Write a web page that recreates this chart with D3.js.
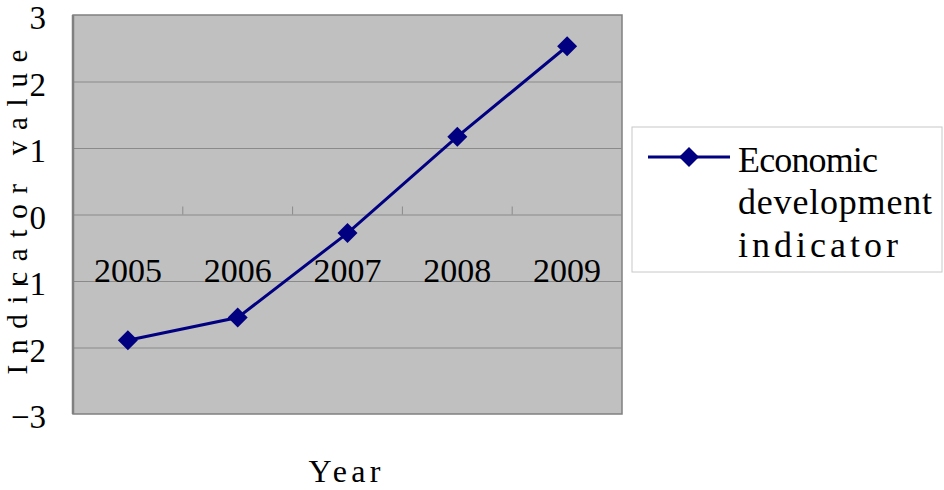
<!DOCTYPE html>
<html>
<head>
<meta charset="utf-8">
<script src="https://cdn.jsdelivr.net/npm/d3@7"></script>
<style>
  body { margin: 0; background: #fff; }
  svg { display: block; }
  text { font-family: "Liberation Serif", "DejaVu Serif", serif; fill: #000; }
</style>
</head>
<body>
<div id="chart"></div>
<script>
// data
var years = ["2005", "2006", "2007", "2008", "2009"];
var values = [-1.89, -1.55, -0.28, 1.17, 2.53];
var yTicks = [-3, -2, -1, 0, 1, 2, 3];
var seriesName = ["Economic", "development", "indicator"];

var width = 944, height = 490;
var plot = { left: 73, right: 622, top: 15, bottom: 414 };

var svg = d3.select("#chart").append("svg")
  .attr("width", width)
  .attr("height", height);

var x = d3.scaleBand().domain(years).range([plot.left, plot.right]);
var y = d3.scaleLinear().domain([-3, 3]).range([plot.bottom, plot.top]);

// plot area
svg.append("rect")
  .attr("x", plot.left).attr("y", plot.top)
  .attr("width", plot.right - plot.left).attr("height", plot.bottom - plot.top)
  .attr("fill", "#c0c0c0")
  .attr("stroke", "#808080")
  .attr("stroke-width", 1.5);

// gridlines
var grid = svg.append("g")
  .attr("transform", "translate(" + plot.left + ",0)")
  .call(d3.axisLeft(y).tickValues(yTicks.slice(1, -1)).tickSize(-(plot.right - plot.left)).tickFormat(""));
grid.select(".domain").remove();
grid.selectAll("line").attr("stroke", "#8a8a8a").attr("stroke-width", 1);

// left axis line
svg.append("line")
  .attr("x1", plot.left).attr("x2", plot.left)
  .attr("y1", plot.top).attr("y2", plot.bottom)
  .attr("stroke", "#808080").attr("stroke-width", 2.5);

// y tick labels
var yAxis = svg.append("g")
  .attr("transform", "translate(" + (plot.left - 27) + ",0)")
  .call(d3.axisLeft(y).tickValues(yTicks).tickSize(0).tickPadding(0)
    .tickFormat(function(d) { return d < 0 ? "\u2212" + Math.abs(d) : d; }));
yAxis.select(".domain").remove();
yAxis.selectAll("text")
  .attr("font-size", 33)
  .attr("font-family", "Liberation Serif")
  .attr("dy", "0.42em")
  .attr("fill", "#000");

// category axis at y = 0, tick marks point up at band edges
svg.selectAll(".cattick")
  .data(years.slice(1))
  .enter().append("line")
  .attr("class", "cattick")
  .attr("x1", function(d) { return x(d); })
  .attr("x2", function(d) { return x(d); })
  .attr("y1", y(0) - 8)
  .attr("y2", y(0))
  .attr("stroke", "#8a8a8a");

var xAxis = svg.append("g")
  .attr("transform", "translate(0," + y(0) + ")")
  .call(d3.axisBottom(x).tickSize(0).tickPadding(0));
xAxis.select(".domain").remove();
xAxis.selectAll("text")
  .attr("font-size", 34)
  .attr("font-family", "Liberation Serif")
  .attr("y", 67)
  .attr("dy", 0)
  .attr("fill", "#000");

// series line
var pts = years.map(function(d, i) { return [x(d) + x.bandwidth() / 2, y(values[i])]; });

svg.append("path")
  .datum(pts)
  .attr("d", d3.line())
  .attr("fill", "none")
  .attr("stroke", "#000080")
  .attr("stroke-width", 3);

var diamond = d3.symbol().type(d3.symbolSquare).size(200);

svg.selectAll(".marker")
  .data(pts)
  .enter().append("path")
  .attr("class", "marker")
  .attr("d", diamond)
  .attr("transform", function(d) { return "translate(" + d[0] + "," + d[1] + ") rotate(45)"; })
  .attr("fill", "#000080");

// axis titles
svg.append("text")
  .attr("x", (plot.left + plot.right) / 2 - 3)
  .attr("y", 482)
  .attr("text-anchor", "middle")
  .attr("font-size", 32)
  .attr("textLength", 72)
  .attr("lengthAdjust", "spacing")
  .text("Year");

svg.append("text")
  .attr("transform", "translate(27,212) rotate(-90)")
  .attr("text-anchor", "middle")
  .attr("font-size", 29)
  .attr("textLength", 325)
  .attr("lengthAdjust", "spacing")
  .text("Indicator value");

// legend
var legend = svg.append("g");
legend.append("rect")
  .attr("x", 632).attr("y", 127)
  .attr("width", 310).attr("height", 145)
  .attr("fill", "#fff")
  .attr("stroke", "#c8c8c8")
  .attr("stroke-width", 1);

legend.append("line")
  .attr("x1", 648).attr("x2", 730)
  .attr("y1", 157).attr("y2", 157)
  .attr("stroke", "#000080")
  .attr("stroke-width", 3);

legend.append("path")
  .attr("d", diamond)
  .attr("transform", "translate(689,157) rotate(45)")
  .attr("fill", "#000080");

var legendWidths = [140, 194, 160];
var legendBase = [172, 214, 257];
legend.selectAll(".ltext")
  .data(seriesName)
  .enter().append("text")
  .attr("class", "ltext")
  .attr("x", 738)
  .attr("y", function(d, i) { return legendBase[i]; })
  .attr("font-size", 36)
  .attr("textLength", function(d, i) { return legendWidths[i]; })
  .attr("lengthAdjust", "spacing")
  .text(function(d) { return d; });
</script>
</body>
</html>
